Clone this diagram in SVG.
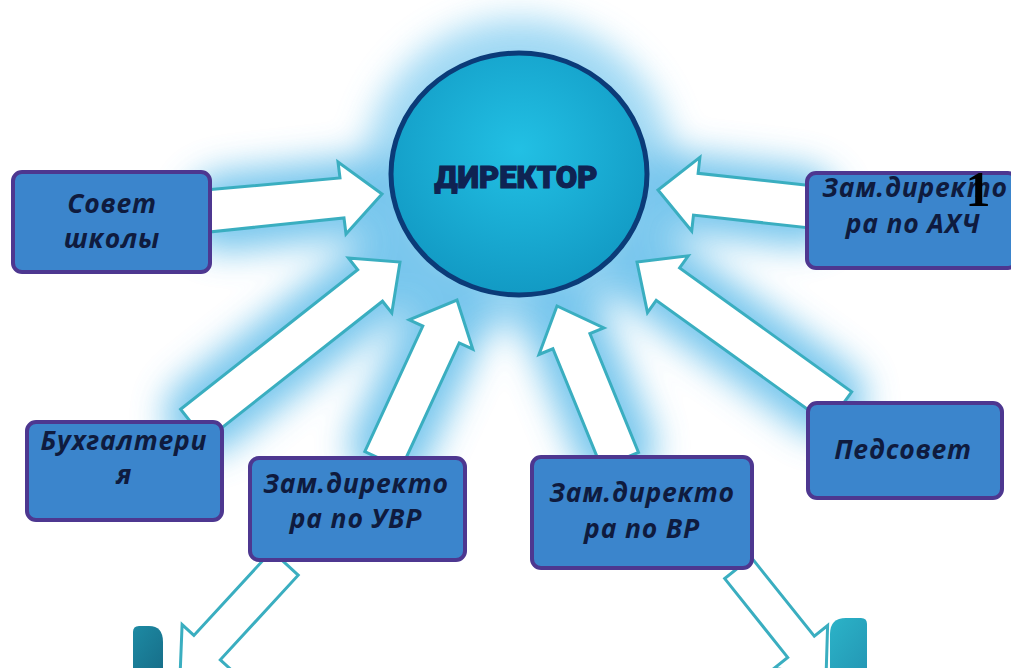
<svg xmlns="http://www.w3.org/2000/svg" width="1011" height="668" viewBox="0 0 1011 668">
<defs>
<filter id="blur" x="-50%" y="-50%" width="200%" height="200%"><feGaussianBlur stdDeviation="17"/></filter>
<radialGradient id="circ" cx="50%" cy="40%" r="60%">
<stop offset="0" stop-color="#22c0e4"/>
<stop offset="1" stop-color="#129ac4"/>
</radialGradient>
<linearGradient id="tealL" x1="0" y1="0" x2="1" y2="1">
<stop offset="0" stop-color="#1d8aa3"/>
<stop offset="1" stop-color="#176f8a"/>
</linearGradient>
<linearGradient id="tealR" x1="0" y1="0" x2="1" y2="1">
<stop offset="0" stop-color="#2bb3c8"/>
<stop offset="1" stop-color="#2498b5"/>
</linearGradient>
<style>
.box{fill:#3b85cc;stroke:#4d3790;stroke-width:4}
.lbl{font-family:"Open Sans","DejaVu Sans",sans-serif;font-style:italic;font-weight:700;font-size:26.5px;letter-spacing:0.8px;fill:#0f1b3e;text-anchor:middle}
.arr{fill:#ffffff;stroke:#3aaec0;stroke-width:3;stroke-linejoin:miter}
.glow{stroke:#62bdea;stroke-width:80;stroke-linecap:round;fill:none}
</style>
</defs>
<rect width="1011" height="668" fill="#ffffff"/>
<g id="glow" filter="url(#blur)" opacity="0.85">
<circle cx="519" cy="174" r="155" fill="#8fd2f2"/>
<path class="glow" d="M225 212 L382 194 M205 415 L400 262 M390 445 L457 300 M615 445 L557 306 M825 398 L637 262 M800 207 L658 190"/>
</g>
<g id="connectors">
<polygon class="arr" points="205,190 340,178 338,162 382,194 346,234 344,218 209,232"/>
<polygon class="arr" points="180.6,409.3 357.7,269.8 348.4,258 400,262 391.8,313 382.5,301.2 205.4,440.7"/>
<polygon class="arr" points="364.8,451.6 422.8,326.1 409.2,319.8 457,300 472.8,349.2 459.2,342.9 401.2,468.4"/>
<polygon class="arr" points="601.5,467.6 552.9,348.8 539,354.5 557,306 603.8,327.9 589.9,333.6 638.5,452.4"/>
<polygon class="arr" points="828.3,424.2 656.2,300.4 647.5,312.6 637,262 688.3,255.8 679.6,268 851.7,391.8"/>
<polygon class="arr" points="814.3,186.1 698.1,173.3 699.9,157.4 658,190 691.7,231 693.5,215.1 809.7,227.9"/>
<polygon class="arr" points="271.8,550.8 193.9,635.4 182.1,624.6 180,677 232.1,670.6 220.3,659.8 298.2,575.2"/>
<polygon class="arr" points="751.3,557.4 814.3,636.2 827.6,625.5 826,678 774.4,668.1 787.7,657.4 724.7,578.6"/>
</g>
<g id="director">
<ellipse cx="519" cy="174" rx="128" ry="121" fill="url(#circ)" stroke="#0b3b78" stroke-width="5"/>
<text x="516" y="188" font-family="Roboto,'DejaVu Sans',sans-serif" font-weight="900" font-size="31" fill="#0f2352" stroke="#0f2352" stroke-width="1.2" text-anchor="middle">ДИРЕКТОР</text>
</g>
<g id="sovet">
<rect class="box" x="13" y="172" width="197" height="100" rx="9"/>
<text class="lbl" x="112" y="213">Совет</text>
<text class="lbl" x="112" y="248">школы</text>
</g>
<g id="ahch">
<rect class="box" x="807" y="173" width="210" height="95" rx="9"/>
<text class="lbl" x="915" y="197">Зам.директо</text>
<text class="lbl" x="913" y="233">ра по АХЧ</text>
</g>
<g id="buh">
<rect class="box" x="27" y="422" width="195" height="98" rx="9"/>
<text class="lbl" x="124" y="450">Бухгалтери</text>
<text class="lbl" x="124" y="484">я</text>
</g>
<g id="uvr">
<rect class="box" x="250" y="458" width="215" height="102" rx="9"/>
<text class="lbl" x="356" y="493">Зам.директо</text>
<text class="lbl" x="356" y="528">ра по УВР</text>
</g>
<g id="vr">
<rect class="box" x="532" y="457" width="220" height="111" rx="9"/>
<text class="lbl" x="642" y="502">Зам.директо</text>
<text class="lbl" x="642" y="538">ра по ВР</text>
</g>
<g id="pedsovet">
<rect class="box" x="808" y="403" width="194" height="95" rx="9"/>
<text class="lbl" x="903" y="459">Педсовет</text>
</g>
<g id="bottom-shapes">
<path d="M133 668 L133 632 Q133 626 139 626 L149 626 Q163 626 163 642 L163 668 Z" fill="url(#tealL)"/>
<path d="M830 668 L830 634 Q830 618 846 618 L861 618 Q867 618 867 624 L867 668 Z" fill="url(#tealR)"/>
</g>
<text x="978" y="206" font-family="'Liberation Serif',serif" font-weight="700" font-size="50" fill="#000000" text-anchor="middle">1</text>
</svg>
